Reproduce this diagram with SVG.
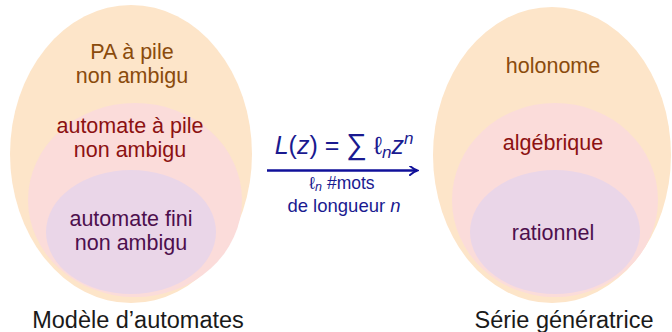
<svg xmlns="http://www.w3.org/2000/svg" width="672" height="332" viewBox="0 0 672 332">
<defs>
<style>
text{font-family:"Liberation Sans",Arial,sans-serif;text-anchor:middle}
.lbl{font-size:21.5px}
.cap{font-size:23.5px;fill:#1a1a1a}
.outer{fill:#FDE5C9}
.mid{fill:#FBDCDA}
.inner{fill:#EAD6E8}
.t1{fill:#8A4B0C}
.t2{fill:#8C1111}
.t3{fill:#4D0F4D}
.math{fill:#1A1A90}
.it{font-style:italic}
</style>
<marker id="arr" viewBox="0 0 10 10" refX="8" refY="5" markerWidth="10" markerHeight="10" markerUnits="userSpaceOnUse" orient="auto">
<path d="M1,0.5 Q5,4 8.5,5 Q5,6 1,9.5" fill="none" stroke="#10109A" stroke-width="2" stroke-linecap="round"/>
</marker>
</defs>
<rect width="672" height="332" fill="#ffffff"/>

<g id="left-outer">
<ellipse class="outer" cx="131" cy="154" rx="121" ry="149"/>
<text class="lbl t1" x="132" y="59">PA à pile</text>
<text class="lbl t1" x="132" y="83">non ambigu</text>
</g>
<g id="left-mid">
<ellipse class="mid" cx="135" cy="200" rx="107" ry="97"/>
<text class="lbl t2" x="130" y="133">automate à pile</text>
<text class="lbl t2" x="130" y="157">non ambigu</text>
</g>
<g id="left-inner">
<ellipse class="inner" cx="131" cy="232" rx="85" ry="62"/>
<text class="lbl t3" x="131" y="226">automate fini</text>
<text class="lbl t3" x="131" y="250">non ambigu</text>
</g>
<g id="left-caption">
<text class="cap" x="138" y="328">Modèle d’automates</text>
</g>

<g id="right-outer">
<ellipse class="outer" cx="552" cy="155" rx="119" ry="148"/>
<text class="lbl t1" x="553" y="73">holonome</text>
</g>
<g id="right-mid">
<ellipse class="mid" cx="555" cy="200" rx="103" ry="97"/>
<text class="lbl t2" x="553" y="150">algébrique</text>
</g>
<g id="right-inner">
<ellipse class="inner" cx="555" cy="232" rx="85" ry="62"/>
<text class="lbl t3" x="553" y="240">rationnel</text>
</g>
<g id="right-caption">
<text class="cap" x="564" y="328">Série génératrice</text>
</g>

<g id="connectors">
<line x1="267" y1="170.5" x2="417" y2="170.5" stroke="#10109A" stroke-width="2.6" marker-end="url(#arr)"/>
<text class="math" x="344" y="154" font-size="25"><tspan class="it">L</tspan>(<tspan class="it">z</tspan>) = <tspan font-size="29">∑</tspan> ℓ<tspan class="it" font-size="17" dy="4">n</tspan><tspan class="it" dy="-4">z</tspan><tspan class="it" font-size="17" dy="-10">n</tspan></text>
<text class="math" x="342" y="189" font-size="17.5">ℓ<tspan class="it" font-size="12.5" dy="2">n</tspan><tspan dy="-2"> #mots</tspan></text>
<text class="math" x="344" y="212" font-size="18.5">de longueur <tspan class="it">n</tspan></text>
</g>
</svg>
